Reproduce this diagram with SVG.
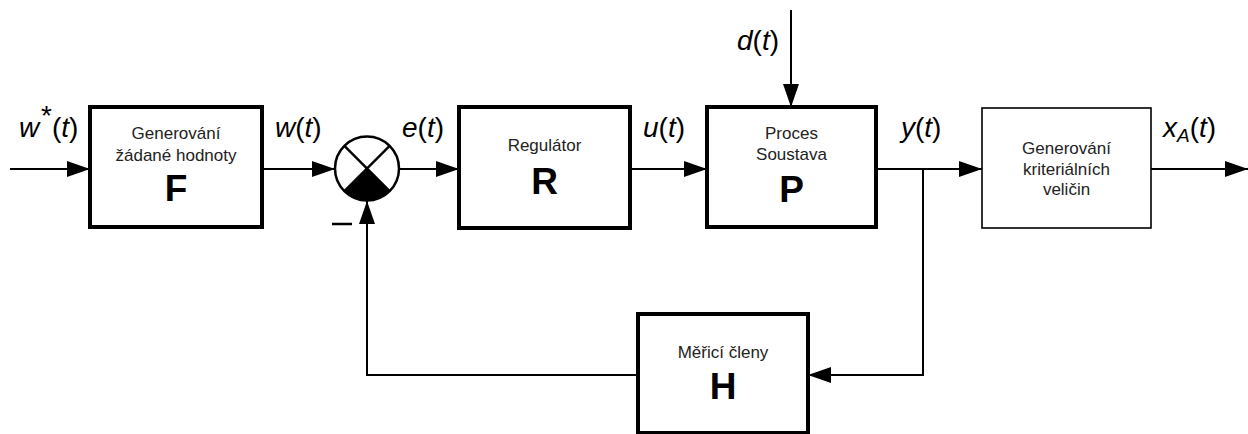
<svg xmlns="http://www.w3.org/2000/svg" width="1248" height="434" viewBox="0 0 1248 434">
<style>
.box{fill:#fff;stroke:#000;stroke-width:4;stroke-linejoin:miter}
.thin{fill:#fff;stroke:#000;stroke-width:1.6}
.ln{fill:none;stroke:#000;stroke-width:2}
.sm{font-family:"Liberation Sans",Arial,sans-serif;font-size:17px;fill:#222;text-anchor:middle}
.big{font-family:"Liberation Sans",Arial,sans-serif;font-size:37px;font-weight:bold;fill:#000;text-anchor:middle}
.lbl{font-family:"Liberation Sans",Arial,sans-serif;font-size:28px;fill:#000}
.it{font-style:italic}
</style>
<defs>
<marker id="ah" viewBox="0 0 23 16" refX="23" refY="8" markerWidth="23" markerHeight="16" markerUnits="userSpaceOnUse" orient="auto">
<path d="M0,0 L23,8 L0,16 Z" fill="#000"/>
</marker>
</defs>
<g id="connectors">
<line class="ln" x1="10" y1="169" x2="90" y2="169" marker-end="url(#ah)"/>
<line class="ln" x1="262" y1="169" x2="335" y2="169" marker-end="url(#ah)"/>
<line class="ln" x1="399" y1="169" x2="459" y2="169" marker-end="url(#ah)"/>
<line class="ln" x1="630" y1="169" x2="707" y2="169" marker-end="url(#ah)"/>
<line class="ln" x1="791" y1="10" x2="791" y2="107" marker-end="url(#ah)"/>
<line class="ln" x1="876" y1="169" x2="982" y2="169" marker-end="url(#ah)"/>
<line class="ln" x1="1151" y1="169" x2="1248" y2="169" marker-end="url(#ah)"/>
<polyline class="ln" points="923,169 923,375 808,375" marker-end="url(#ah)"/>
<polyline class="ln" points="638,375 367,375 367,201" marker-end="url(#ah)"/>
</g>
<g id="sum">
<circle cx="367" cy="168.5" r="32" fill="#fff" stroke="#000" stroke-width="2.5"/>
<path d="M367,168.5 L344.4,191.1 A32,32 0 0 0 389.6,191.1 Z" fill="#000"/>
<line x1="344.4" y1="145.9" x2="389.6" y2="191.1" stroke="#000" stroke-width="2.5"/>
<line x1="389.6" y1="145.9" x2="344.4" y2="191.1" stroke="#000" stroke-width="2.5"/>
<line x1="332" y1="224" x2="352" y2="224" stroke="#000" stroke-width="2.5"/>
</g>
<g id="F">
<rect class="box" x="90" y="107" width="172" height="120"/>
<text class="sm" x="176" y="139">Generování</text>
<text class="sm" x="176" y="161">žádané hodnoty</text>
<text class="big" x="176" y="201">F</text>
</g>
<g id="R">
<rect class="box" x="459" y="107" width="171" height="121"/>
<text class="sm" x="544.5" y="151">Regulátor</text>
<text class="big" x="544.5" y="194">R</text>
</g>
<g id="P">
<rect class="box" x="707" y="107" width="169" height="120"/>
<text class="sm" x="791.5" y="139">Proces</text>
<text class="sm" x="791.5" y="160">Soustava</text>
<text class="big" x="791.5" y="202">P</text>
</g>
<g id="G">
<rect class="thin" x="982" y="108" width="169" height="120"/>
<text class="sm" x="1066.5" y="154">Generování</text>
<text class="sm" x="1066.5" y="175">kriteriálních</text>
<text class="sm" x="1066.5" y="195">veličin</text>
</g>
<g id="H">
<rect class="box" x="638" y="314" width="170" height="119"/>
<text class="sm" x="723" y="358">Měřicí členy</text>
<text class="big" x="723" y="399">H</text>
</g>
<g id="labels">
<text class="lbl" x="19" y="137"><tspan class="it">w</tspan></text>
<text class="lbl" x="41" y="125" font-size="14">*</text>
<text class="lbl" x="52" y="137">(<tspan class="it">t</tspan>)</text>
<text class="lbl" x="275" y="137"><tspan class="it">w</tspan>(<tspan class="it">t</tspan>)</text>
<text class="lbl" x="402" y="137"><tspan class="it">e</tspan>(<tspan class="it">t</tspan>)</text>
<text class="lbl" x="643" y="137"><tspan class="it">u</tspan>(<tspan class="it">t</tspan>)</text>
<text class="lbl" x="737" y="50"><tspan class="it">d</tspan>(<tspan class="it">t</tspan>)</text>
<text class="lbl" x="901" y="137"><tspan class="it">y</tspan>(<tspan class="it">t</tspan>)</text>
<text class="lbl" x="1163" y="137"><tspan class="it">x</tspan><tspan class="it" font-size="19" dy="5">A</tspan><tspan dy="-5">(</tspan><tspan class="it">t</tspan>)</text>
</g>
</svg>
